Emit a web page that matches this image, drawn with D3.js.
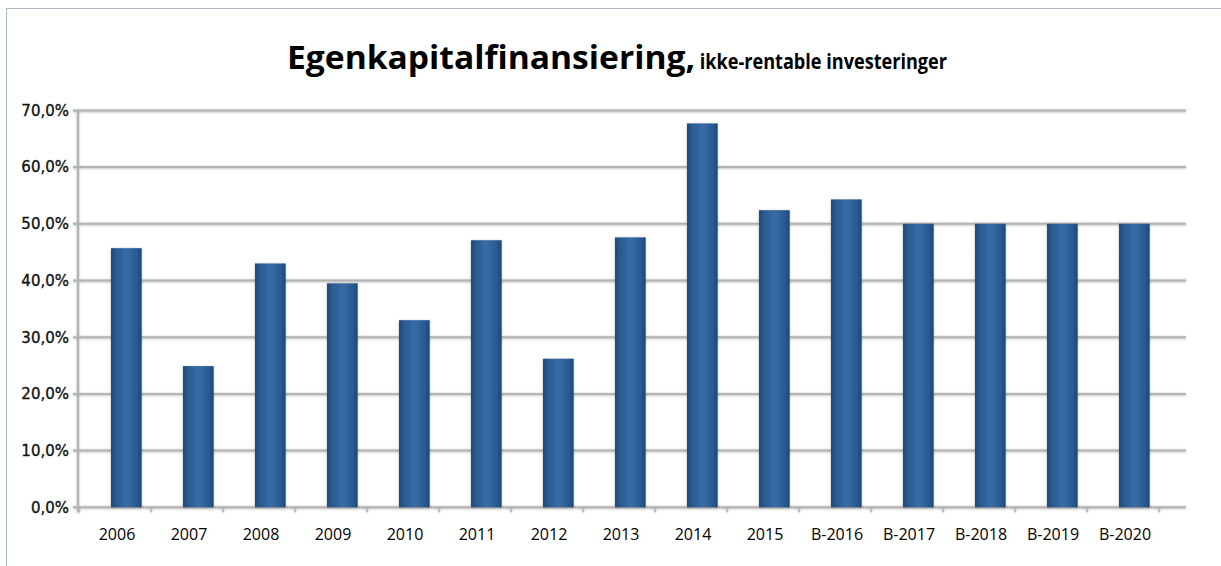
<!DOCTYPE html>
<html>
<head>
<meta charset="utf-8">
<script src="https://cdn.jsdelivr.net/npm/d3@7"></script>
<style>
  body { margin: 0; background: #fff; }
  svg { display: block; }
</style>
</head>
<body>
<script>
// data
const years = ["2006","2007","2008","2009","2010","2011","2012","2013","2014","2015","B-2016","B-2017","B-2018","B-2019","B-2020"]
const shares = [45.7, 24.9, 43.0, 39.5, 33.0, 47.1, 26.2, 47.6, 67.7, 52.4, 54.3, 50.0, 50.0, 50.0, 50.0]
const yTicks = [0, 10, 20, 30, 40, 50, 60, 70]
const titleMain = "Egenkapitalfinansiering,"
const titleSub = " ikke-rentable investeringer"

const width = 1221, height = 566
const plot = {left: 79, right: 1159, top: 110.4, bottom: 507.3, gridEnd: 1186}

const data = years.map((y, i) => ({year: y, value: shares[i]}))

const svg = d3.select("body").append("svg")
  .attr("width", width)
  .attr("height", height)

const defs = svg.append("defs")
const grad = defs.append("linearGradient").attr("id", "barGrad")
  .attr("x1", "0%").attr("x2", "100%").attr("y1", "0%").attr("y2", "0%")
;[["0%","#1b4674"],["14%","#28598f"],["50%","#376ca6"],["86%","#28598f"],["100%","#1b4674"]]
  .forEach(s => grad.append("stop").attr("offset", s[0]).attr("stop-color", s[1]))

const shadow = defs.append("filter").attr("id", "shadow")
  .attr("x", "-20%").attr("y", "-20%").attr("width", "140%").attr("height", "140%")
shadow.append("feDropShadow").attr("dx", 0).attr("dy", 0.5)
  .attr("stdDeviation", 1.2).attr("flood-color", "#777").attr("flood-opacity", 0.6)

// outer frame
svg.append("rect")
  .attr("x", 6.5).attr("y", 8.5)
  .attr("width", width + 10).attr("height", height + 10)
  .attr("fill", "none").attr("stroke", "#aab9c7").attr("stroke-width", 1)

// title
const title = svg.append("text")
  .attr("x", 287).attr("y", 69)
  .attr("font-family", "'Open Sans', sans-serif")
  .attr("font-weight", "bold")
  .attr("fill", "#000")
title.append("tspan").attr("font-size", 32).attr("textLength", 408)
  .attr("lengthAdjust", "spacingAndGlyphs").text(titleMain)
title.append("tspan").attr("font-size", 21).attr("textLength", 252)
  .attr("lengthAdjust", "spacingAndGlyphs").text(titleSub)

// scales
const x = d3.scaleBand()
  .domain(years)
  .range([plot.left, plot.right])
  .paddingInner(0).paddingOuter(0)

const y = d3.scaleLinear()
  .domain([0, 70])
  .range([plot.bottom, plot.top])

// gridlines
const grid = svg.append("g").attr("filter", "url(#shadow)")
grid.selectAll("line")
  .data(yTicks)
  .enter().append("line")
  .attr("x1", plot.left - 6).attr("x2", plot.gridEnd)
  .attr("y1", d => y(d)).attr("y2", d => y(d))
  .attr("stroke", "#b4b4b4").attr("stroke-width", 2)

// vertical axis line
grid.append("line")
  .attr("x1", plot.left - 1).attr("x2", plot.left - 1)
  .attr("y1", y(70)).attr("y2", y(0) + 5)
  .attr("stroke", "#b4b4b4").attr("stroke-width", 2)

// x ticks at category boundaries
grid.selectAll(".xtick")
  .data(years.concat(["end"]))
  .enter().append("line")
  .attr("class", "xtick")
  .attr("x1", (d, i) => plot.left + i * x.step())
  .attr("x2", (d, i) => plot.left + i * x.step())
  .attr("y1", y(0)).attr("y2", y(0) + 5)
  .attr("stroke", "#b4b4b4").attr("stroke-width", 1.5)

// y axis labels
const yAxis = d3.axisLeft(y)
  .tickValues(yTicks)
  .tickSize(0)
  .tickPadding(10)
  .tickFormat(d => d3.format(".1f")(d).replace(".", ",") + "%")

svg.append("g")
  .attr("transform", "translate(" + plot.left + ",0)")
  .call(yAxis)
  .call(g => g.select(".domain").remove())
  .selectAll("text")
  .attr("font-family", "'DejaVu Sans', sans-serif")
  .attr("font-size", 15)
  .attr("fill", "#111")
  .attr("stroke", "#111")
  .attr("stroke-width", 0.35)

// bars
svg.append("g")
  .selectAll("rect")
  .data(data)
  .enter().append("rect")
  .attr("x", d => x(d.year) + x.bandwidth() * 0.445)
  .attr("width", x.bandwidth() * 0.425)
  .attr("y", d => y(d.value))
  .attr("height", d => y(0) - y(d.value))
  .attr("fill", "url(#barGrad)")
  .attr("filter", "url(#shadow)")

// x axis labels
const xAxis = d3.axisBottom(x).tickSize(0).tickPadding(21)
svg.append("g")
  .attr("transform", "translate(2," + y(0) + ")")
  .call(xAxis)
  .call(g => g.select(".domain").remove())
  .selectAll("text")
  .attr("font-family", "'Open Sans', sans-serif")
  .attr("font-size", 16)
  .attr("fill", "#000")
</script>
</body>
</html>
